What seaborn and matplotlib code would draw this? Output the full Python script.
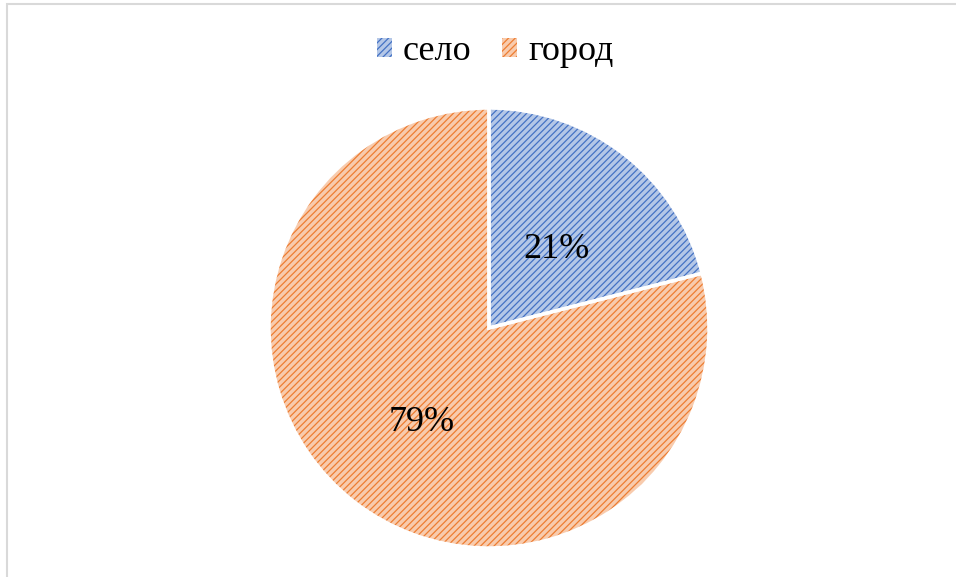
import matplotlib
matplotlib.use("Agg")
import matplotlib.pyplot as plt
import matplotlib.patches as mpatches
import seaborn as sns

labels = ["село", "город"]
shares = [21, 79]
face_colors = ["#b4c7e7", "#f8cbad"]
hatch_colors = ["#4472c4", "#ed7d31"]

sns.set_theme(style="white")
plt.rcParams["font.family"] = ["Liberation Serif", "DejaVu Serif"]
plt.rcParams["hatch.linewidth"] = 0.9
plt.rcParams["text.color"] = "black"

fig = plt.figure(figsize=(9.56, 5.77), dpi=100)
ax = fig.add_axes([0, 0, 1, 1])

center = (489, 249)
radius = 220

wedges, texts, autotexts = ax.pie(
    shares, colors=face_colors, startangle=90, counterclock=False,
    center=center, radius=radius, autopct="%1.0f%%", pctdistance=0.5,
    textprops={"fontsize": 26, "color": "black"},
    wedgeprops={"linewidth": 0},
)
for w, hc in zip(wedges, hatch_colors):
    w.set_hatch("/////")
    w.set_edgecolor(hc)

# white separators between slices
ax.pie(shares, startangle=90, counterclock=False, center=center, radius=radius,
       wedgeprops={"fill": False, "edgecolor": "white", "linewidth": 2.5})
for t in autotexts:
    t.set_zorder(5)
    t.set_y(t.get_position()[1] - 8)

ax.set_xlim(0, 956)
ax.set_ylim(0, 577)
ax.set_aspect("equal")
ax.axis("off")

handles = []
for fc, hc in zip(face_colors, hatch_colors):
    handles.append(mpatches.Patch(facecolor=fc, edgecolor=hc, hatch="/////", linewidth=0))
fig.legend(handles, labels, loc="upper center", bbox_to_anchor=(0.518, 0.995),
           ncol=2, frameon=False, fontsize=26, handlelength=0.42, handleheight=0.42,
           handletextpad=0.3, columnspacing=0.85, labelcolor="black")

fig.patches.append(mpatches.Rectangle((7 / 956, -0.1), 1.2, 1 - 4 / 577 + 0.1,
                                      transform=fig.transFigure, fill=False,
                                      edgecolor="#d9d9d9", linewidth=1.5))

fig.savefig("out.png", dpi=100)
